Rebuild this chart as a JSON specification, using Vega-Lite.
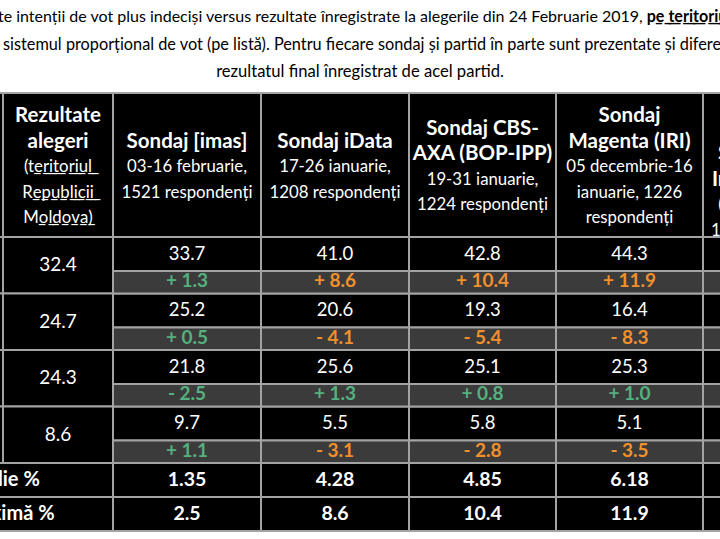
{
  "$schema": "https://vega.github.io/schema/vega-lite/v6.json",
  "width": 720,
  "height": 539,
  "autosize": {"type": "none"},
  "padding": 0,
  "background": "white",
  "config": {"view": {"stroke": null}, "font": "Lato"},
  "datasets": {
    "header": [
      {"c": 0, "k": 0, "n": 1, "w": "b", "u": false, "t": "Partid"},
      {"c": 1, "k": 0, "n": 5, "w": "b", "u": false, "t": "Rezultate"},
      {"c": 1, "k": 1, "n": 5, "w": "b", "u": false, "t": "alegeri"},
      {"c": 1, "k": 2, "n": 5, "w": "r", "u": true, "t": "(teritoriul"},
      {"c": 1, "k": 3, "n": 5, "w": "r", "u": true, "t": "Republicii"},
      {"c": 1, "k": 4, "n": 5, "w": "r", "u": true, "t": "Moldova)"},
      {"c": 2, "k": 0, "n": 3, "w": "b", "u": false, "t": "Sondaj [imas]"},
      {"c": 2, "k": 1, "n": 3, "w": "r", "u": false, "t": "03-16 februarie,"},
      {"c": 2, "k": 2, "n": 3, "w": "r", "u": false, "t": "1521 respondenți"},
      {"c": 3, "k": 0, "n": 3, "w": "b", "u": false, "t": "Sondaj iData"},
      {"c": 3, "k": 1, "n": 3, "w": "r", "u": false, "t": "17-26 ianuarie,"},
      {"c": 3, "k": 2, "n": 3, "w": "r", "u": false, "t": "1208 respondenți"},
      {"c": 4, "k": 0, "n": 4, "w": "b", "u": false, "t": "Sondaj CBS-"},
      {"c": 4, "k": 1, "n": 4, "w": "b", "u": false, "t": "AXA (BOP-IPP)"},
      {"c": 4, "k": 2, "n": 4, "w": "r", "u": false, "t": "19-31 ianuarie,"},
      {"c": 4, "k": 3, "n": 4, "w": "r", "u": false, "t": "1224 respondenți"},
      {"c": 5, "k": 0, "n": 5, "w": "b", "u": false, "t": "Sondaj"},
      {"c": 5, "k": 1, "n": 5, "w": "b", "u": false, "t": "Magenta (IRI)"},
      {"c": 5, "k": 2, "n": 5, "w": "r", "u": false, "t": "05 decembrie-16"},
      {"c": 5, "k": 3, "n": 5, "w": "r", "u": false, "t": "ianuarie, 1226"},
      {"c": 5, "k": 4, "n": 5, "w": "r", "u": false, "t": "respondenți"},
      {"c": 6, "k": 0, "n": 6, "w": "b", "u": false, "t": "Sondaj"},
      {"c": 6, "k": 1, "n": 6, "w": "b", "u": false, "t": "realizat de"},
      {"c": 6, "k": 2, "n": 6, "w": "b", "u": false, "t": "Sociopolitică"},
      {"c": 6, "k": 3, "n": 6, "w": "b", "u": false, "t": "Intellect S.R.L."},
      {"c": 6, "k": 4, "n": 6, "w": "r", "u": false, "t": "(13-28 ianuarie)"},
      {"c": 6, "k": 5, "n": 6, "w": "r", "u": false, "t": "1000 respondenți"}
    ],
    "results": [
      {"party": "PSRM", "p": 0, "result": 32.4},
      {"party": "ACUM", "p": 1, "result": 24.7},
      {"party": "PDM", "p": 2, "result": 24.3},
      {"party": "ȘOR", "p": 3, "result": 8.6}
    ],
    "polls": [
      {"poll": "IMAS", "c": 2, "party": "PSRM", "p": 0, "value": 33.7, "diff": 1.3},
      {"poll": "IMAS", "c": 2, "party": "ACUM", "p": 1, "value": 25.2, "diff": 0.5},
      {"poll": "IMAS", "c": 2, "party": "PDM", "p": 2, "value": 21.8, "diff": -2.5},
      {"poll": "IMAS", "c": 2, "party": "ȘOR", "p": 3, "value": 9.7, "diff": 1.1},
      {"poll": "iData", "c": 3, "party": "PSRM", "p": 0, "value": 41.0, "diff": 8.6},
      {"poll": "iData", "c": 3, "party": "ACUM", "p": 1, "value": 20.6, "diff": -4.1},
      {"poll": "iData", "c": 3, "party": "PDM", "p": 2, "value": 25.6, "diff": 1.3},
      {"poll": "iData", "c": 3, "party": "ȘOR", "p": 3, "value": 5.5, "diff": -3.1},
      {"poll": "CBS-AXA", "c": 4, "party": "PSRM", "p": 0, "value": 42.8, "diff": 10.4},
      {"poll": "CBS-AXA", "c": 4, "party": "ACUM", "p": 1, "value": 19.3, "diff": -5.4},
      {"poll": "CBS-AXA", "c": 4, "party": "PDM", "p": 2, "value": 25.1, "diff": 0.8},
      {"poll": "CBS-AXA", "c": 4, "party": "ȘOR", "p": 3, "value": 5.8, "diff": -2.8},
      {"poll": "Magenta", "c": 5, "party": "PSRM", "p": 0, "value": 44.3, "diff": 11.9},
      {"poll": "Magenta", "c": 5, "party": "ACUM", "p": 1, "value": 16.4, "diff": -8.3},
      {"poll": "Magenta", "c": 5, "party": "PDM", "p": 2, "value": 25.3, "diff": 1.0},
      {"poll": "Magenta", "c": 5, "party": "ȘOR", "p": 3, "value": 5.1, "diff": -3.5}
    ],
    "stats": [
      {"stat": "Abatere medie %", "s": 0},
      {"stat": "Abatere maximă %", "s": 1}
    ],
    "summary": [
      {"poll": "IMAS", "c": 2, "s": 0, "v": 1.35},
      {"poll": "iData", "c": 3, "s": 0, "v": 4.28},
      {"poll": "CBS-AXA", "c": 4, "s": 0, "v": 4.85},
      {"poll": "Magenta", "c": 5, "s": 0, "v": 6.18},
      {"poll": "IMAS", "c": 2, "s": 1, "v": 2.5},
      {"poll": "iData", "c": 3, "s": 1, "v": 8.6},
      {"poll": "CBS-AXA", "c": 4, "s": 1, "v": 10.4},
      {"poll": "Magenta", "c": 5, "s": 1, "v": 11.9}
    ],
    "title": [
      {"line": 1, "part": "a", "t": "Tabel 1. Sondaje - rezultate intenții de vot plus indeciși versus rezultate înregistrate la alegerile din 24 Februarie 2019,"},
      {"line": 1, "part": "b", "t": "pe teritoriul Republicii Moldova"},
      {"line": 2, "part": "a", "t": "sistemul proporțional de vot (pe listă). Pentru fiecare sondaj și partid în parte sunt prezentate și diferențele față de"},
      {"line": 3, "part": "a", "t": "rezultatul final înregistrat de acel partid."}
    ]
  },
  "layer": [
    {
      "data": {"name": "header"},
      "transform": [{"filter": "datum.k == 0"}, {"calculate": "datum.c + 1", "as": "c1"}],
      "mark": {"type": "rect", "fill": "black", "stroke": "#a3a3a3", "strokeWidth": 2},
      "encoding": {
        "x": {"field": "c", "type": "quantitative", "axis": null, "scale": {"domain": [0, 1, 2, 3, 4, 5, 6, 7], "range": [-112, 3, 113, 261, 409, 556, 703, 850], "nice": false, "zero": false}},
        "x2": {"field": "c1"},
        "y": {"datum": 0, "type": "quantitative", "axis": null, "scale": {"domain": [-3, -1, 0, 1, 5, 7], "range": [17, 72, 93, 237, 463, 531], "nice": false, "zero": false}},
        "y2": {"datum": 1}
      }
    },
    {
      "data": {"name": "results"},
      "transform": [{"calculate": "datum.p + 1", "as": "y0"}, {"calculate": "datum.p + 2", "as": "y1"}],
      "mark": {"type": "rect", "fill": "black", "stroke": "#a3a3a3", "strokeWidth": 2},
      "encoding": {
        "x": {"datum": 0, "type": "quantitative", "axis": null},
        "x2": {"datum": 1},
        "y": {"field": "y0", "type": "quantitative", "axis": null},
        "y2": {"field": "y1"}
      }
    },
    {
      "data": {"name": "results"},
      "transform": [{"calculate": "datum.p + 1", "as": "y0"}, {"calculate": "datum.p + 2", "as": "y1"}],
      "mark": {"type": "rect", "fill": "black", "stroke": "#a3a3a3", "strokeWidth": 2},
      "encoding": {
        "x": {"datum": 1, "type": "quantitative", "axis": null},
        "x2": {"datum": 2},
        "y": {"field": "y0", "type": "quantitative", "axis": null},
        "y2": {"field": "y1"}
      }
    },
    {
      "data": {"name": "polls"},
      "transform": [{"calculate": "datum.c + 1", "as": "c1"}, {"calculate": "datum.p + 1", "as": "y0"}, {"calculate": "datum.p + 1.6018", "as": "ym"}],
      "mark": {"type": "rect", "fill": "black", "stroke": "#a3a3a3", "strokeWidth": 2},
      "encoding": {
        "x": {"field": "c", "type": "quantitative", "axis": null},
        "x2": {"field": "c1"},
        "y": {"field": "y0", "type": "quantitative", "axis": null},
        "y2": {"field": "ym"}
      }
    },
    {
      "data": {"name": "polls"},
      "transform": [{"calculate": "datum.c + 1", "as": "c1"}, {"calculate": "datum.p + 1.6018", "as": "ym"}, {"calculate": "datum.p + 2", "as": "y1"}],
      "mark": {"type": "rect", "fill": "#3b3b3b", "stroke": "#a3a3a3", "strokeWidth": 2},
      "encoding": {
        "x": {"field": "c", "type": "quantitative", "axis": null},
        "x2": {"field": "c1"},
        "y": {"field": "ym", "type": "quantitative", "axis": null},
        "y2": {"field": "y1"}
      }
    },
    {
      "data": {"name": "results"},
      "transform": [{"calculate": "datum.p + 1", "as": "y0"}, {"calculate": "datum.p + 1.6018", "as": "ym"}],
      "mark": {"type": "rect", "fill": "black", "stroke": "#a3a3a3", "strokeWidth": 2},
      "encoding": {
        "x": {"datum": 6, "type": "quantitative", "axis": null},
        "x2": {"datum": 7},
        "y": {"field": "y0", "type": "quantitative", "axis": null},
        "y2": {"field": "ym"}
      }
    },
    {
      "data": {"name": "results"},
      "transform": [{"calculate": "datum.p + 1.6018", "as": "ym"}, {"calculate": "datum.p + 2", "as": "y1"}],
      "mark": {"type": "rect", "fill": "#3b3b3b", "stroke": "#a3a3a3", "strokeWidth": 2},
      "encoding": {
        "x": {"datum": 6, "type": "quantitative", "axis": null},
        "x2": {"datum": 7},
        "y": {"field": "ym", "type": "quantitative", "axis": null},
        "y2": {"field": "y1"}
      }
    },
    {
      "data": {"name": "stats"},
      "transform": [{"calculate": "datum.s + 5", "as": "y0"}, {"calculate": "datum.s + 6", "as": "y1"}],
      "mark": {"type": "rect", "fill": "black", "stroke": "#a3a3a3", "strokeWidth": 2},
      "encoding": {
        "x": {"datum": 0, "type": "quantitative", "axis": null},
        "x2": {"datum": 2},
        "y": {"field": "y0", "type": "quantitative", "axis": null},
        "y2": {"field": "y1"}
      }
    },
    {
      "data": {"name": "stats"},
      "transform": [{"calculate": "datum.s + 5", "as": "y0"}, {"calculate": "datum.s + 6", "as": "y1"}],
      "mark": {"type": "rect", "fill": "black", "stroke": "#a3a3a3", "strokeWidth": 2},
      "encoding": {
        "x": {"datum": 6, "type": "quantitative", "axis": null},
        "x2": {"datum": 7},
        "y": {"field": "y0", "type": "quantitative", "axis": null},
        "y2": {"field": "y1"}
      }
    },
    {
      "data": {"name": "summary"},
      "transform": [{"calculate": "datum.c + 1", "as": "c1"}, {"calculate": "datum.s + 5", "as": "y0"}, {"calculate": "datum.s + 6", "as": "y1"}],
      "mark": {"type": "rect", "fill": "black", "stroke": "#a3a3a3", "strokeWidth": 2},
      "encoding": {
        "x": {"field": "c", "type": "quantitative", "axis": null},
        "x2": {"field": "c1"},
        "y": {"field": "y0", "type": "quantitative", "axis": null},
        "y2": {"field": "y1"}
      }
    },
    {
      "data": {"name": "header"},
      "transform": [{"filter": "datum.w == 'b'"}, {"calculate": "datum.c + 0.5", "as": "cx"}, {"calculate": "0.515 + (datum.k - (datum.n - 1) / 2) * 0.176", "as": "hy"}],
      "mark": {"type": "text", "color": "white", "fontWeight": "bold", "fontSize": 20.5, "align": "center", "baseline": "middle"},
      "encoding": {
        "x": {"field": "cx", "type": "quantitative", "axis": null},
        "y": {"field": "hy", "type": "quantitative", "axis": null},
        "text": {"field": "t"}
      }
    },
    {
      "data": {"name": "header"},
      "transform": [{"filter": "datum.w == 'r'"}, {"calculate": "datum.c + 0.5", "as": "cx"}, {"calculate": "0.515 + (datum.k - (datum.n - 1) / 2) * 0.176", "as": "hy"}, {"calculate": "datum.u ? replace(datum.t, regexp('([A-Za-z])', 'g'), '$1\u0332') : datum.t", "as": "tt"}],
      "mark": {"type": "text", "color": "white", "fontSize": 16.8, "align": "center", "baseline": "middle"},
      "encoding": {
        "x": {"field": "cx", "type": "quantitative", "axis": null},
        "y": {"field": "hy", "type": "quantitative", "axis": null},
        "text": {"field": "tt"}
      }
    },
    {
      "data": {"name": "results"},
      "transform": [{"calculate": "datum.p + 1.5", "as": "yc"}],
      "mark": {"type": "text", "color": "white", "fontSize": 19, "align": "center", "baseline": "middle"},
      "encoding": {
        "x": {"datum": 0.5, "type": "quantitative", "axis": null},
        "y": {"field": "yc", "type": "quantitative", "axis": null},
        "text": {"field": "party"}
      }
    },
    {
      "data": {"name": "results"},
      "transform": [{"calculate": "datum.p + 1.5", "as": "yc"}],
      "mark": {"type": "text", "color": "white", "fontSize": 19, "align": "center", "baseline": "middle"},
      "encoding": {
        "x": {"datum": 1.5, "type": "quantitative", "axis": null},
        "y": {"field": "yc", "type": "quantitative", "axis": null},
        "text": {"field": "result", "type": "quantitative", "format": ".1f"}
      }
    },
    {
      "data": {"name": "polls"},
      "transform": [{"calculate": "datum.c + 0.5", "as": "cx"}, {"calculate": "datum.p + 1.3", "as": "yc"}],
      "mark": {"type": "text", "color": "white", "fontSize": 18.5, "align": "center", "baseline": "middle"},
      "encoding": {
        "x": {"field": "cx", "type": "quantitative", "axis": null},
        "y": {"field": "yc", "type": "quantitative", "axis": null},
        "text": {"field": "value", "type": "quantitative", "format": ".1f"}
      }
    },
    {
      "data": {"name": "polls"},
      "transform": [{"calculate": "datum.c + 0.5", "as": "cx"}, {"calculate": "datum.p + 1.78", "as": "yc"}, {"calculate": "(datum.diff >= 0 ? '+ ' : '- ') + format(abs(datum.diff), '.1f')", "as": "label"}],
      "mark": {"type": "text", "fontWeight": "bold", "fontSize": 19, "align": "center", "baseline": "middle"},
      "encoding": {
        "x": {"field": "cx", "type": "quantitative", "axis": null},
        "y": {"field": "yc", "type": "quantitative", "axis": null},
        "text": {"field": "label"},
        "color": {"field": "diff", "type": "quantitative", "legend": null, "scale": {"type": "threshold", "domain": [-2.5, 2.55], "range": ["#f0902c", "#55b07f", "#f0902c"]}}
      }
    },
    {
      "data": {"name": "stats"},
      "transform": [{"calculate": "datum.s + 5.5", "as": "yc"}],
      "mark": {"type": "text", "color": "white", "fontWeight": "bold", "fontSize": 20, "align": "left", "baseline": "middle"},
      "encoding": {
        "x": {"datum": 0, "type": "quantitative", "axis": null},
        "y": {"field": "yc", "type": "quantitative", "axis": null},
        "text": {"field": "stat"}
      }
    },
    {
      "data": {"name": "summary"},
      "transform": [{"calculate": "datum.c + 0.5", "as": "cx"}, {"calculate": "datum.s + 5.5", "as": "yc"}, {"calculate": "datum.s == 0 ? format(datum.v, '.2f') : format(datum.v, '.1f')", "as": "label"}],
      "mark": {"type": "text", "color": "white", "fontWeight": "bold", "fontSize": 19.5, "align": "center", "baseline": "middle"},
      "encoding": {
        "x": {"field": "cx", "type": "quantitative", "axis": null},
        "y": {"field": "yc", "type": "quantitative", "axis": null},
        "text": {"field": "label"}
      }
    },
    {
      "data": {"name": "title"},
      "transform": [{"filter": "datum.line == 1 && datum.part == 'a'"}],
      "mark": {"type": "text", "color": "black", "fontSize": 16, "align": "right", "baseline": "middle"},
      "encoding": {
        "x": {"datum": 5.59, "type": "quantitative", "axis": null},
        "y": {"datum": -3, "type": "quantitative", "axis": null},
        "text": {"field": "t"}
      }
    },
    {
      "data": {"name": "title"},
      "transform": [{"filter": "datum.line == 1 && datum.part == 'b'"}, {"calculate": "replace(datum.t, regexp('(.)', 'g'), '$1\u0332')", "as": "tt"}],
      "mark": {"type": "text", "color": "black", "fontSize": 16.1, "fontWeight": "bold", "align": "left", "baseline": "middle", "dx": 4},
      "encoding": {
        "x": {"datum": 5.59, "type": "quantitative", "axis": null},
        "y": {"datum": -3, "type": "quantitative", "axis": null},
        "text": {"field": "tt"}
      }
    },
    {
      "data": {"name": "title"},
      "transform": [{"filter": "datum.line == 2"}],
      "mark": {"type": "text", "color": "black", "fontSize": 16.3, "align": "left", "baseline": "middle"},
      "encoding": {
        "x": {"datum": 1, "type": "quantitative", "axis": null},
        "y": {"datum": -2, "type": "quantitative", "axis": null},
        "text": {"field": "t"}
      }
    },
    {
      "data": {"name": "title"},
      "transform": [{"filter": "datum.line == 3"}],
      "mark": {"type": "text", "color": "black", "fontSize": 16.6, "align": "center", "baseline": "middle"},
      "encoding": {
        "x": {"datum": 3.669, "type": "quantitative", "axis": null},
        "y": {"datum": -1, "type": "quantitative", "axis": null},
        "text": {"field": "t"}
      }
    }
  ]
}
